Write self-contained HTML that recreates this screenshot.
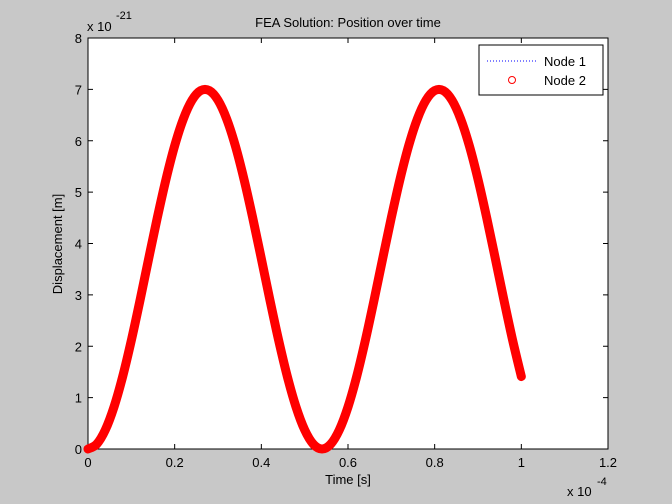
<!DOCTYPE html>
<html><head><meta charset="utf-8"><style>
body{margin:0;background:#c8c8c8;}
svg{display:block;font-family:"Liberation Sans",sans-serif;}
</style></head><body>
<svg id="chart" width="672" height="504" viewBox="0 0 672 504">
<rect width="672" height="504" fill="#c8c8c8"/>
<rect x="88" y="38" width="520" height="411" fill="#fff" stroke="#000" stroke-width="1"/>
<g id="ticks"></g>
<g id="series"></g>
<text x="348" y="27" font-size="13" text-anchor="middle">FEA Solution: Position over time</text>
<text x="348" y="484" font-size="13" text-anchor="middle">Time [s]</text>
<text transform="translate(62,244) rotate(-90)" font-size="13" text-anchor="middle">Displacement [m]</text>
<g><text x="87" y="31" font-size="13">x 10</text><text x="116" y="19" font-size="11">-21</text></g>
<g><text x="567" y="496" font-size="13">x 10</text><text x="597" y="485" font-size="11">-4</text></g>
<g>
<rect x="479" y="45" width="124" height="50" fill="#fff" stroke="#000"/>
<g><line x1="487" y1="61" x2="537" y2="61" stroke="#00f" stroke-dasharray="1,2"/><text x="544" y="66" font-size="13">Node 1</text></g>
<g><circle cx="512" cy="80" r="3.5" fill="none" stroke="#f00"/><text x="544" y="85" font-size="13">Node 2</text></g>
</g>
</svg>
<script>
const times=[0,0.02,0.04,0.06,0.08,0.10,0.12,0.14,0.16,0.18,0.20,0.22,0.24,0.26,0.28,0.30,0.32,0.34,0.36,0.38,0.40,0.42,0.44,0.46,0.48,0.50,0.52,0.54,0.56,0.58,0.60,0.62,0.64,0.66,0.68,0.70,0.72,0.74,0.76,0.78,0.80,0.82,0.84,0.86,0.88,0.90,0.92,0.94,0.96,0.98,1.00];
const node2=[0,0.094,0.372,0.819,1.41,2.114,2.892,3.705,4.504,5.25,5.902,6.424,6.789,6.976,6.976,6.789,6.424,5.902,5.25,4.504,3.705,2.892,2.114,1.41,0.819,0.372,0.094,0,0.094,0.372,0.819,1.41,2.114,2.892,3.705,4.504,5.25,5.902,6.424,6.789,6.976,6.976,6.789,6.424,5.902,5.25,4.504,3.705,2.892,2.114,1.41];
const xTicks=["0","0.2","0.4","0.6","0.8","1","1.2"];
const yTicks=["0","1","2","3","4","5","6","7","8"];
const NS="http://www.w3.org/2000/svg";
const X=v=>88+v/1.2*520, Y=v=>449-v/8*411;
const tg=document.getElementById('ticks'), sg=document.getElementById('series');
function mk(tag,attrs,parent){const e=document.createElementNS(NS,tag);for(const k in attrs)e.setAttribute(k,attrs[k]);parent.appendChild(e);return e;}
xTicks.forEach(t=>{const x=X(+t);
 const l=mk('line',{x1:x,x2:x,y1:449,y2:444,stroke:'#000'},tg);
 
 
 mk('line',{x1:x,x2:x,y1:38,y2:43,stroke:'#000'},tg);
 const s=mk('text',{x:x,y:467,'font-size':13,'text-anchor':'middle'},tg);s.textContent=t;
 
 });
yTicks.forEach(t=>{const y=Y(+t);
 const l=mk('line',{x1:88,x2:93,y1:y,y2:y,stroke:'#000'},tg);
 
 
 mk('line',{x1:603,x2:608,y1:y,y2:y,stroke:'#000'},tg);
 const s=mk('text',{x:82,y:y+5,'font-size':13,'text-anchor':'end'},tg);s.textContent=t;
 
 });
const P=times.map((t,i)=>[X(t),Y(node2[i])]);
let d='M'+P[0][0]+','+P[0][1];
for(let i=0;i<P.length-1;i++){
 const p0=P[Math.max(i-1,0)],p1=P[i],p2=P[i+1],p3=P[Math.min(i+2,P.length-1)];
 const c1=[p1[0]+(p2[0]-p0[0])/6,p1[1]+(p2[1]-p0[1])/6];
 const c2=[p2[0]-(p3[0]-p1[0])/6,p2[1]-(p3[1]-p1[1])/6];
 d+=' C'+c1[0]+','+c1[1]+' '+c2[0]+','+c2[1]+' '+p2[0]+','+p2[1];
}
const l1=mk('path',{d:d,fill:'none',stroke:'#00f','stroke-width':1,'stroke-dasharray':'1,2'},sg);


const band=mk('path',{d:d,fill:'none',stroke:'#f00','stroke-width':9,'stroke-linejoin':'round','stroke-linecap':'round'},sg);


P.forEach(p=>{const c=mk('circle',{cx:p[0],cy:p[1],r:3.5,fill:'#f00',stroke:'#f00'},sg);
 
 });
</script>
</body></html>
